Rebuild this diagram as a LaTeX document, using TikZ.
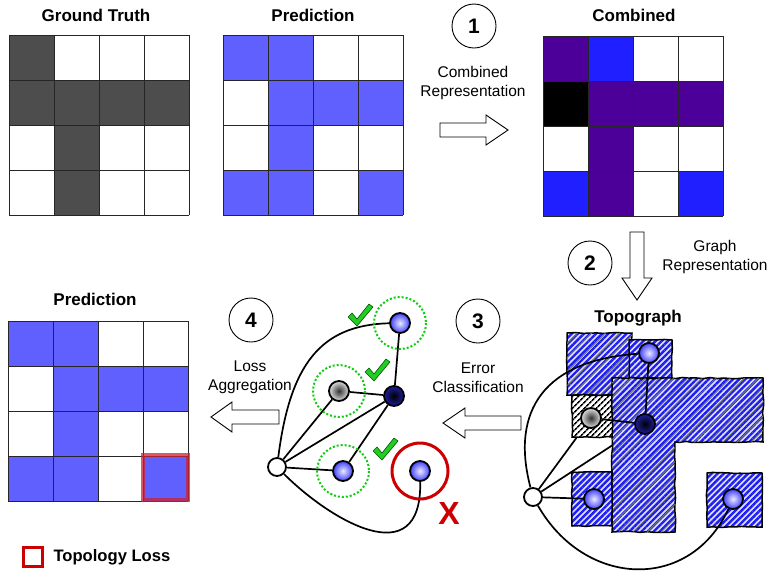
\documentclass[tikz,border=0pt]{standalone}
\usepackage{fontspec}
\setmainfont{Liberation Sans}
\usetikzlibrary{patterns.meta,decorations.pathmorphing}

\definecolor{gtgray}{HTML}{4D4D4D}
\definecolor{predblue}{HTML}{6060FF}
\definecolor{combpurple}{HTML}{4C0099}
\definecolor{combblue}{HTML}{1F1FFF}
\definecolor{lossred}{HTML}{CC0000}
\definecolor{softred}{HTML}{D02030}
\definecolor{okgreen}{HTML}{22CC22}
\definecolor{ringgreen}{HTML}{11CC11}
\definecolor{hatchblue}{HTML}{1E1EF0}
\definecolor{nodenavy}{HTML}{1E1EA0}

\pgfdeclarelayer{under}
\pgfdeclarelayer{regions}
\pgfsetlayers{under,regions,main}

\tikzset{
  title/.style={font=\fontsize{17}{20}\selectfont\bfseries},
  steptext/.style={align=center, font=\fontsize{15.5}{19}\selectfont},
  numcircle/.style={circle, draw, line width=0.9pt, minimum size=44pt, inner sep=0pt,
    font=\fontsize{21}{24}\selectfont\bfseries},
  gridline/.style={line width=0.9pt, draw=black!85},
  blockarrow/.style={draw, line width=0.9pt, fill=white},
  link/.style={line width=1.7pt},
  vwhite/.style={circle, draw, line width=1.8pt, fill=white, minimum size=18pt, inner sep=0pt},
  vblue/.style={circle, draw, line width=1.8pt, minimum size=20pt, inner sep=0pt,
    inner color=blue!8, outer color=blue!75},
  vgray/.style={circle, draw, line width=1.8pt, minimum size=20pt, inner sep=0pt,
    inner color=black!80, outer color=black!12},
  vdark/.style={circle, draw, line width=1.8pt, minimum size=20pt, inner sep=0pt,
    inner color=black, outer color=nodenavy},
  okring/.style={draw=ringgreen, line width=2pt, dotted},
  badring/.style={draw=lossred, line width=3pt},
  tickmark/.style={fill=okgreen, draw=green!35!black, line width=0.6pt, line join=round},
  sketch/.style={decorate, decoration={random steps, segment length=7pt, amplitude=0.6pt}},
  bluehatch/.style={sketch, preaction={fill=blue!12},
    pattern={Lines[angle=45, distance=4.3pt, line width=2.4pt]}, pattern color=hatchblue,
    draw, line width=1.5pt},
  bothhatch/.style={bluehatch, postaction={sketch,
    pattern={Lines[angle=45, distance=10pt, line width=1pt]}, pattern color=black!55}},
  blackhatch/.style={sketch, preaction={fill=white},
    pattern={Lines[angle=45, distance=4pt, line width=1.7pt]}, pattern color=black,
    draw, line width=1.5pt}
}

\newcommand{\cellgrid}[2]{%
  \foreach \k in {0,45,...,180} {
    \draw[gridline] (#1+\k,#2) -- (#1+\k,#2+180);
    \draw[gridline] (#1,#2+\k) -- (#1+180,#2+\k);
  }}
\newcommand{\okmark}[1]{%
  \filldraw[tickmark] (#1) ++(-12,1) -- ++(4,-4) -- ++(5,6) -- ++(12,-15) -- ++(4,3) -- ++(-16,19) -- cycle;}

\begin{document}
\begin{tikzpicture}[x=1pt, y=-1pt]
\useasboundingbox (0,0) rectangle (767,571);
\pgfmathsetseed{11}

% ground truth
\node[title] (gttitle) at (96,15) {Ground Truth};
\foreach \c/\r in {0/0,0/1,1/1,2/1,3/1,1/2,1/3}
  \fill[gtgray] (9+45*\c,35+45*\r) rectangle +(45,45);
\cellgrid{9}{35}

% prediction
\node[title] (predtitle) at (313,15) {Prediction};
\foreach \c/\r in {0/0,1/0,1/1,2/1,3/1,1/2,0/3,1/3,3/3}
  \fill[predblue] (223+45*\c,35+45*\r) rectangle +(45,45);
\cellgrid{223}{35}

% step 1
\node[numcircle] (n1) at (474,26) {1};
\node[steptext] (combtext) at (473,83) {Combined\\Representation};
\draw[blockarrow] (440,123) -- (486,123) -- (486,115) -- (508,130) -- (486,145) -- (486,137) -- (440,137) -- cycle;

% combined
\node[title] (combtitle) at (634,15) {Combined};
\foreach \c/\r in {0/0,1/1,2/1,3/1,1/2,1/3}
  \fill[combpurple] (543+45*\c,36+45*\r) rectangle +(45,45);
\foreach \c/\r in {1/0,0/3,3/3}
  \fill[combblue] (543+45*\c,36+45*\r) rectangle +(45,45);
\fill[black] (543,81) rectangle +(45,45);
\cellgrid{543}{36}

% step 2
\node[numcircle] (n2) at (590,263) {2};
\node[steptext] (graphtext) at (715,257) {Graph\\Representation};
\draw[blockarrow] (630,232) -- (644,232) -- (644,278) -- (652,278) -- (637,300) -- (622,278) -- (630,278) -- cycle;

% topograph
\node[title] (topotitle) at (638,318) {Topograph};
\node[vwhite] (tw) at (533,497) {};
\node[vblue] (t1) at (649,353) {};
\node[vgray] (t2) at (591,418) {};
\node[vdark] (t3) at (645,424) {};
\node[vblue] (t4) at (594,499) {};
\node[vblue] (t5) at (733,499) {};
\begin{pgfonlayer}{under}
  \draw[link] (tw) -- (t2);
  \draw[link] (tw) -- (t3);
\end{pgfonlayer}
\begin{pgfonlayer}{regions}
  \path[bothhatch] (567,333) rectangle (632,395);
  \path[bluehatch] (629,340) rectangle (672,378);
  \path[bothhatch] (612,378) -- (763,378) -- (763,442) -- (675,442) -- (675,532) -- (612,532) -- cycle;
  \path[blackhatch] (572,395) rectangle (612,437);
  \path[bluehatch] (572,472) rectangle (612,526);
  \path[bluehatch] (707,473) rectangle (762,527);
\end{pgfonlayer}
\draw[link] (tw) .. controls (510,410) and (545,360) .. (t1);
\draw[link] (tw) -- (t4);
\draw[link] (t1) -- (t3);
\draw[link] (t2) -- (t3);
\draw[link] (tw) .. controls (585,588) and (690,592) .. (t5);

% step 3
\node[numcircle] (n3) at (478,321) {3};
\node[steptext] (errtext) at (478,378) {Error\\Classification};
\draw[blockarrow] (521,416) -- (465,416) -- (465,408) -- (443,423) -- (465,438) -- (465,430) -- (521,430) -- cycle;

% classified graph
\node[vwhite] (mw) at (277,467) {};
\node[vblue] (m1) at (400,323) {};
\node[vgray] (m2) at (339,391) {};
\node[vdark] (m3) at (394,396) {};
\node[vblue] (m4) at (343,471) {};
\node[vblue] (m5) at (420,471) {};
\draw[link] (mw) .. controls (290,365) and (320,325) .. (m1);
\draw[link] (mw) -- (m2);
\draw[link] (mw) -- (m3);
\draw[link] (mw) -- (m4);
\draw[link] (m1) -- (m3);
\draw[link] (m2) -- (m3);
\draw[link] (m3) -- (m4);
\draw[link] (mw) .. controls (330,520) and (422,575) .. (m5);
\draw[okring] (m1) circle (26);
\draw[okring] (m2) circle (26);
\draw[okring] (m4) circle (26);
\draw[badring] (m5) circle (28);
\okmark{360,316}
\okmark{377,371}
\okmark{385,450}
\node[text=lossred, font=\fontsize{32}{32}\selectfont\bfseries] (xmark) at (449,513) {X};

% step 4
\node[numcircle] (n4) at (251,320) {4};
\node[steptext] (losstext) at (250,377) {Loss\\Aggregation};
\draw[blockarrow] (279,410) -- (232,410) -- (232,402) -- (211,417) -- (232,432) -- (232,424) -- (279,424) -- cycle;

% prediction with loss
\node[title] (pred2title) at (95,299) {Prediction};
\foreach \c/\r in {0/0,1/0,1/1,2/1,3/1,1/2,0/3,1/3,3/3}
  \fill[predblue] (8+45*\c,321+45*\r) rectangle +(45,45);
\cellgrid{8}{321}
\draw[draw=softred, draw opacity=0.75, line width=4pt] (143,455) rectangle (188,500);

% legend
\node[draw=lossred, line width=3.5pt, fill=white, minimum size=19pt, inner sep=0pt] (legbox) at (33,557) {};
\node[title, anchor=west, font=\fontsize{16.6}{20}\selectfont\bfseries] (legtext) at (50,557) {Topology Loss};
\end{tikzpicture}
\end{document}
